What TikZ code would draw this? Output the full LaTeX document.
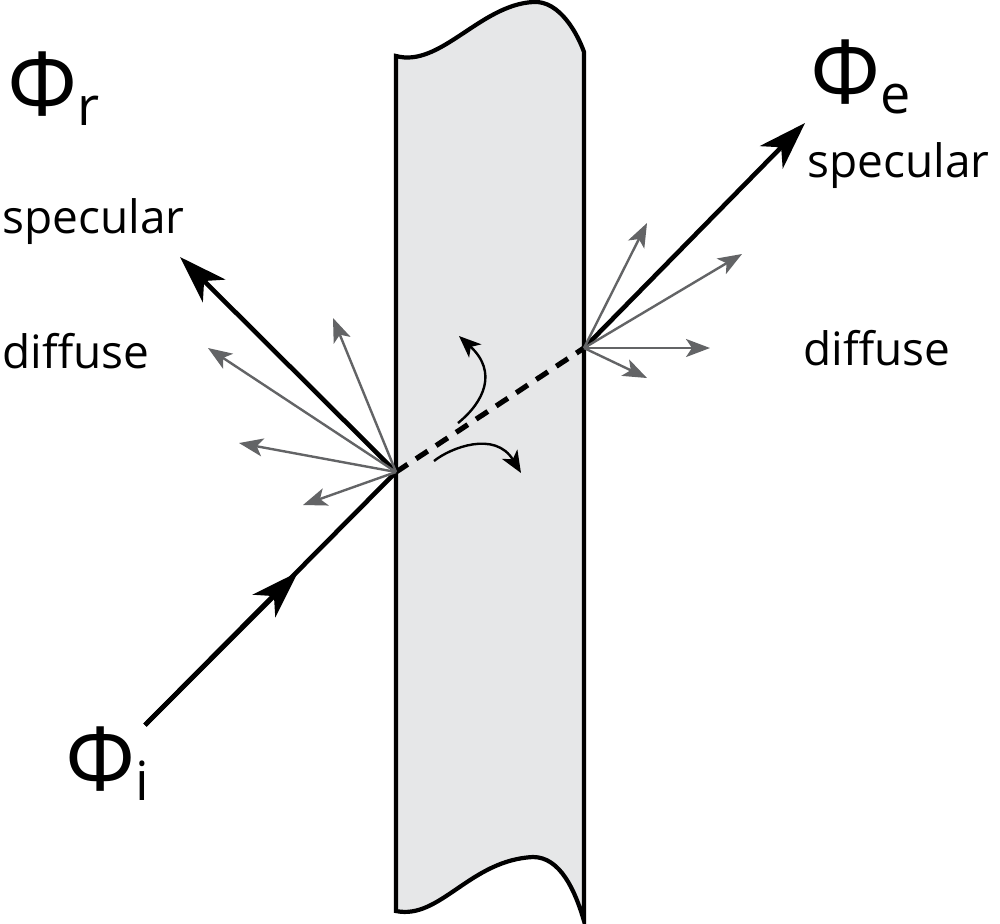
\documentclass[tikz,border=0pt]{standalone}
\usepackage{fontspec}
\setmainfont{Open Sans}
\usetikzlibrary{arrows.meta}

\definecolor{slabgray}{HTML}{E6E7E8}
\definecolor{raygray}{HTML}{636466}

\newcommand{\flux}[1]{{\fontsize{44}{44}\selectfont Φ}\raisebox{-5pt}{\fontsize{27}{27}\selectfont #1}}

\tikzset{
  slab/.style={draw=black,line width=2.1pt,fill=slabgray},
  beam/.style={line width=2.3pt},
  beamtip/.style={-{Stealth[length=24pt,width=16pt,inset=7pt]}},
  scatter/.style={draw=raygray,line width=1.2pt,-{Stealth[length=12pt,width=9pt,inset=3pt]}},
  swirl/.style={line width=1.2pt,-{Stealth[length=11pt,width=9pt,inset=3pt]}},
  lbl/.style={anchor=base west,inner sep=0pt,font=\fontsize{23}{23}\selectfont},
}

\begin{document}
\begin{tikzpicture}[x=0.5pt,y=-0.5pt]
\useasboundingbox (0,0) rectangle (1000,923);
% the slab
\draw[slab] (396,56) .. controls (440,68) and (480,5) .. (533,2)
  .. controls (560,0) and (578,35) .. (584,52) -- (584,921)
  .. controls (575,890) and (560,857) .. (533,857)
  .. controls (470,860) and (440,920) .. (396,911) -- cycle;
\coordinate (hit) at (396,472);
\coordinate (exit) at (584,348);
\coordinate (src) at (145,725);
\coordinate (mid) at (298,572);
\coordinate (refl) at (180,257);
\coordinate (trans) at (805,123);
% beams
\draw[beam] (src) -- (hit);
\draw[beam,beamtip] (src) -- (mid);
\draw[beam,line width=2.6pt,dash pattern=on 7pt off 5pt] (hit) -- (exit);
\draw[beam,beamtip] (hit) -- (refl);
\draw[beam,beamtip] (exit) -- (trans);
% diffuse rays
\foreach \x/\y [count=\k] in {333/318,208/348,239/443,303/505}{
  \coordinate (dr\k) at (\x,\y);
  \draw[scatter] (hit) -- (dr\k);
}
\foreach \x/\y [count=\k] in {647/223,742/254,710/348,647/378}{
  \coordinate (de\k) at (\x,\y);
  \draw[scatter] (exit) -- (de\k);
}
% scattering inside
\coordinate (s1) at (458,423);
\coordinate (t1) at (459,336);
\coordinate (s2) at (434,461);
\coordinate (t2) at (521,473);
\draw[swirl] (s1) .. controls (484,402) and (498,372) .. (t1);
\draw[swirl] (s2) .. controls (450,448) and (495,430) .. (t2);
% labels
\node[lbl] (phir) at (7,115) {\flux{r}};
\node[lbl] (specr) at (2,233) {specular};
\node[lbl] (diffr) at (2,368) {diffuse};
\node[lbl] (phie) at (810,103) {\flux{e}};
\node[lbl] (spece) at (807,177) {specular};
\node[lbl] (diffe) at (803,365) {diffuse};
\node[lbl] (phii) at (65,790) {\flux{i}};
\end{tikzpicture}
\end{document}
